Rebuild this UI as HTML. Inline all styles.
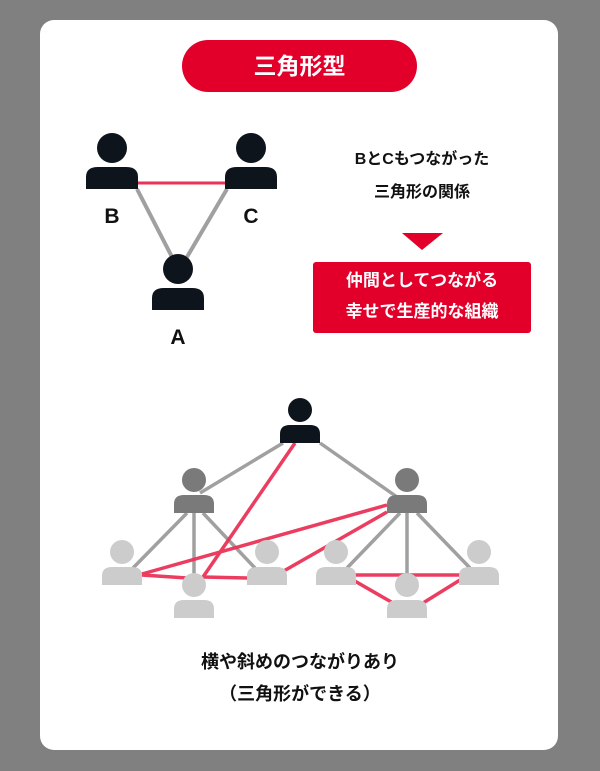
<!DOCTYPE html>
<html><head><meta charset="utf-8"><style>
html,body{margin:0;padding:0;}
body{width:600px;height:771px;background:#808080;position:relative;overflow:hidden;font-family:"Liberation Sans","Noto Sans CJK JP",sans-serif;}
.card{position:absolute;left:40px;top:20px;width:518px;height:730px;background:#fff;border-radius:14px;}
.t{position:absolute;font-weight:bold;text-align:center;white-space:nowrap;}
</style></head><body>
<div class="card"></div>
<div style="position:absolute;left:182px;top:40px;width:235px;height:52px;background:#e2002b;border-radius:26px;"></div>
<div class="t" style="left:182px;width:235px;top:52px;font-size:23px;line-height:28px;color:#fff;">三角形型</div>
<div class="t" style="left:322px;width:200px;top:148px;font-size:16px;line-height:24px;color:#111;">BとCもつながった</div>
<div class="t" style="left:322px;width:200px;top:181px;font-size:16px;line-height:24px;color:#111;">三角形の関係</div>
<div style="position:absolute;left:313px;top:262px;width:218px;height:71px;background:#e2002b;border-radius:3px;"></div>
<div class="t" style="left:313px;width:218px;top:269px;font-size:17px;line-height:24px;color:#fff;">仲間としてつながる</div>
<div class="t" style="left:313px;width:218px;top:300px;font-size:17px;line-height:24px;color:#fff;">幸せで生産的な組織</div>
<div class="t" style="left:100px;width:400px;top:649px;font-size:18px;line-height:26px;color:#111;">横や斜めのつながりあり</div>
<div class="t" style="left:100px;width:400px;top:681px;font-size:18px;line-height:26px;color:#111;">（三角形ができる）</div>
<svg width="600" height="771" style="position:absolute;left:0;top:0" xmlns="http://www.w3.org/2000/svg">
<defs>
<g id="p"><circle cx="0" cy="-31" r="15"/><path d="M-26,10 L-26,-2 Q-26,-12 -14,-12 L14,-12 Q26,-12 26,-2 L26,10 Z"/></g>
<g id="q"><circle cx="0" cy="-24" r="12"/><path d="M-20,9 L-20,0 Q-20,-9 -10,-9 L10,-9 Q20,-9 20,0 L20,9 Z"/></g>
</defs>
<polygon points="402,233 443,233 422,250" fill="#e2002b"/>
<g stroke="#a0a0a0" stroke-width="4">
<line x1="137" y1="189" x2="172" y2="257"/><line x1="227" y1="189" x2="187" y2="257"/>
</g>
<line x1="137" y1="183" x2="225" y2="183" stroke="#ea3358" stroke-width="3"/>
<g fill="#0d141c">
<use href="#p" transform="translate(112,179)"/>
<use href="#p" transform="translate(251,179)"/>
<use href="#p" transform="translate(178,300)"/>
</g>
<text x="112" y="223" font-size="21" font-weight="bold" text-anchor="middle" fill="#111" font-family="Liberation Sans">B</text>
<text x="251" y="223" font-size="21" font-weight="bold" text-anchor="middle" fill="#111" font-family="Liberation Sans">C</text>
<text x="178" y="344" font-size="21" font-weight="bold" text-anchor="middle" fill="#111" font-family="Liberation Sans">A</text>
<g stroke="#a0a0a0" stroke-width="3.5">
<line x1="283" y1="443" x2="200" y2="493"/><line x1="320" y1="443" x2="397" y2="497"/>
<line x1="187" y1="513" x2="133" y2="568"/><line x1="194" y1="513" x2="194" y2="580"/><line x1="203" y1="513" x2="255" y2="568"/>
<line x1="400" y1="513" x2="347" y2="568"/><line x1="407" y1="513" x2="407" y2="580"/><line x1="417" y1="513" x2="470" y2="568"/>
</g>
<g stroke="#ea3358" stroke-width="3.5" opacity="0.95">
<line x1="295" y1="443" x2="203" y2="577"/>
<line x1="142" y1="574" x2="387" y2="505"/>
<line x1="142" y1="575" x2="187" y2="578"/>
<line x1="203" y1="577" x2="247" y2="578"/>
<line x1="282" y1="572" x2="387" y2="512"/>
<line x1="353" y1="575" x2="460" y2="575"/>
<line x1="353" y1="580" x2="393" y2="603"/>
<line x1="423" y1="603" x2="460" y2="580"/>
</g>
<use href="#q" transform="translate(300,434)" fill="#0d141c"/>
<g fill="#7a7a7a"><use href="#q" transform="translate(194,504)"/><use href="#q" transform="translate(407,504)"/></g>
<g fill="#cccccc">
<use href="#q" transform="translate(122,576)"/><use href="#q" transform="translate(267,576)"/>
<use href="#q" transform="translate(336,576)"/><use href="#q" transform="translate(479,576)"/>
<use href="#q" transform="translate(194,609)"/><use href="#q" transform="translate(407,609)"/>
</g>
</svg>
</body></html>
